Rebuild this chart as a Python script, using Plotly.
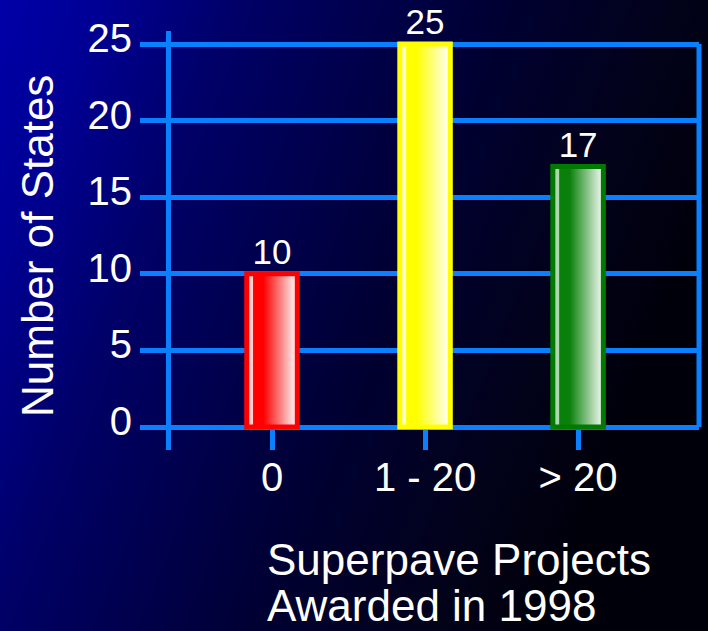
import base64
import plotly.graph_objects as go

# ---- data -------------------------------------------------------------
categories = ["0", "1 - 20", "> 20"]
states = [10, 25, 17]
y_ticks = [0, 5, 10, 15, 20, 25]

# ---- style --------------------------------------------------------------
FONT = "Liberation Sans, Arial, Helvetica, sans-serif"
GRID = "#0a80ff"
W, H = 708, 631
BAR_W = 0.33          # bar width in category units
N_STRIPS = 32         # slices used to build the horizontal shading

# per bar: outline colour, left highlight, body colour, right sheen
palettes = [
    dict(edge="#ff0000", hi=(255, 205, 205), body=(255, 0, 0), end=(255, 236, 236)),
    dict(edge="#ffff00", hi=(255, 255, 205), body=(255, 255, 0), end=(255, 255, 236)),
    dict(edge="#007a00", hi=(175, 215, 175), body=(10, 128, 10), end=(230, 243, 230)),
]


def shade(pal, f):
    """Colour of the bar face at fraction f across its width."""
    if f < 0.13:
        c = pal["hi"]
    elif f < 0.33:
        c = pal["body"]
    else:
        t = min(1.0, (f - 0.33) / (0.95 - 0.33))
        c = tuple(round(b + (e - b) * t) for b, e in zip(pal["body"], pal["end"]))
    return "rgb(%d,%d,%d)" % c


fig = go.Figure()

# shaded faces: each slice starts further right and runs to the bar's right edge,
# so later slices overlap earlier ones without seams
for k in range(N_STRIPS):
    f0 = k / N_STRIPS
    fc = (k + 0.5) / N_STRIPS
    fig.add_trace(go.Bar(
        x=categories, y=states,
        offset=-BAR_W / 2 + f0 * BAR_W,
        width=BAR_W * (1 - f0),
        marker=dict(color=[shade(p, fc) for p in palettes], line=dict(width=0)),
        hoverinfo="skip", showlegend=False,
    ))

# outlines and value labels
fig.add_trace(go.Bar(
    x=categories, y=states, width=BAR_W,
    marker=dict(color="rgba(0,0,0,0)",
                line=dict(color=[p["edge"] for p in palettes], width=5)),
    text=[str(v) for v in states], textposition="outside",
    textfont=dict(family=FONT, size=35, color="white"),
    constraintext="none", cliponaxis=False,
    hovertemplate="%{x}: %{y}<extra></extra>", showlegend=False,
))

# background: blue on the left fading to black on the right
svg = (
    '<svg xmlns="http://www.w3.org/2000/svg" width="%d" height="%d" '
    'viewBox="0 0 %d %d" preserveAspectRatio="none">'
    '<defs><linearGradient id="g" x1="0" y1="0" x2="1" y2="0.35">'
    '<stop offset="0" stop-color="#0000a8"/>'
    '<stop offset="0.12" stop-color="#000096"/>'
    '<stop offset="0.30" stop-color="#000068"/>'
    '<stop offset="0.45" stop-color="#000050"/>'
    '<stop offset="0.65" stop-color="#000030"/>'
    '<stop offset="0.85" stop-color="#02021a"/>'
    '<stop offset="1" stop-color="#00000a"/>'
    '</linearGradient></defs>'
    '<rect width="100%%" height="100%%" fill="url(#g)"/></svg>'
) % (W, H, W, H)
bg_src = "data:image/svg+xml;base64," + base64.b64encode(svg.encode()).decode()

fig.update_layout(
    width=W, height=H,
    margin=dict(l=0, r=0, t=0, b=0, autoexpand=False),
    paper_bgcolor="#000040",
    plot_bgcolor="rgba(0,0,0,0)",
    barmode="overlay",
    font=dict(family=FONT, color="white"),
    images=[dict(source=bg_src, xref="paper", yref="paper", x=0, y=1,
                 sizex=1, sizey=1, sizing="stretch", layer="below")],
    xaxis=dict(
        type="category", domain=[171 / W, 699 / W], range=[-0.66, 2.79],
        showgrid=False, showline=False, zeroline=False, automargin=False,
        ticks="inside", ticklen=23, tickwidth=5, tickcolor=GRID,
        tickfont=dict(family=FONT, size=40, color="white"),
        layer="below traces",
    ),
    yaxis=dict(
        domain=[(H - 450) / H, (H - 31) / H], range=[-1.50, 25.85],
        tickvals=y_ticks, ticktext=[str(v) for v in y_ticks],
        showgrid=True, gridcolor=GRID, gridwidth=5, zeroline=False,
        showline=True, linecolor=GRID, linewidth=5, automargin=False,
        ticks="outside", ticklen=26, tickwidth=5, tickcolor=GRID,
        tickfont=dict(family=FONT, size=40, color="white"),
        ticklabelshift=-6,
        layer="below traces",
    ),
    shapes=[dict(type="line", xref="x domain", yref="y", x0=1, x1=1,
                 y0=y_ticks[0], y1=y_ticks[-1],
                 line=dict(color=GRID, width=5), layer="below")],
    annotations=[
        dict(text="Number of States", textangle=-90, xref="paper", yref="paper",
             x=37 / W, y=(H - 246) / H, xanchor="center", yanchor="middle",
             showarrow=False, font=dict(family=FONT, size=44, color="white")),
        dict(text="Superpave Projects", xref="paper", yref="paper",
             x=265 / W, y=(H - 559) / H, xanchor="left", yanchor="middle",
             showarrow=False, font=dict(family=FONT, size=44, color="white")),
        dict(text="Awarded in 1998", xref="paper", yref="paper",
             x=265 / W, y=(H - 605) / H, xanchor="left", yanchor="middle",
             showarrow=False, font=dict(family=FONT, size=44, color="white")),
    ],
)

fig.write_html("out.html")
